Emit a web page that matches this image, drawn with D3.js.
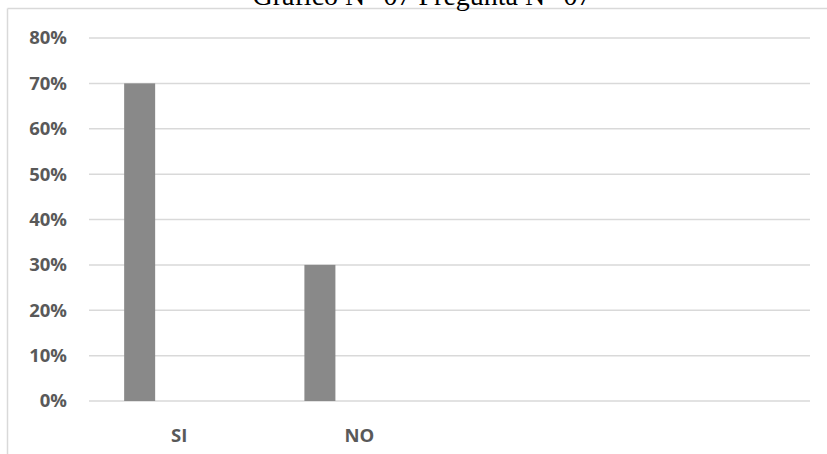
<!DOCTYPE html>
<html>
<head>
<meta charset="utf-8">
<script src="https://cdn.jsdelivr.net/npm/d3@7"></script>
<style>
  html, body { margin: 0; padding: 0; background: #fff; }
  svg { display: block; }
</style>
</head>
<body>
<script>
// Chart data
const title = "Gráfico N° 07 Pregunta N° 07";
const categories = ["SI", "NO", "", " "];
const values = [0.70, 0.30, null, null];
const yTicks = [0, 0.1, 0.2, 0.3, 0.4, 0.5, 0.6, 0.7, 0.8];

const W = 827, H = 454;
const plot = { left: 89, right: 810, top: 38, bottom: 401 };

const svg = d3.select("body").append("svg")
  .attr("width", W).attr("height", H);

// Chart frame (top and left edges visible)
svg.append("line")
  .attr("x1", 7.5).attr("x2", W).attr("y1", 8.5).attr("y2", 8.5)
  .attr("stroke", "#d9d9d9").attr("stroke-width", 1.5);
svg.append("line")
  .attr("x1", 7.5).attr("x2", 7.5).attr("y1", 8.5).attr("y2", H)
  .attr("stroke", "#d9d9d9").attr("stroke-width", 1.5);

// Title
svg.append("text")
  .attr("x", 422).attr("y", 5)
  .attr("text-anchor", "middle")
  .attr("font-family", "'Liberation Serif', 'Times New Roman', serif")
  .attr("font-size", 28)
  .attr("fill", "#000")
  .text(title);

const x = d3.scaleBand().domain(categories)
  .range([plot.left, plot.right]).padding(0);
const y = d3.scaleLinear().domain([0, 0.8])
  .range([plot.bottom, plot.top]);

// Gridlines
svg.append("g")
  .selectAll("line")
  .data(yTicks)
  .join("line")
  .attr("x1", plot.left).attr("x2", plot.right)
  .attr("y1", d => y(d)).attr("y2", d => y(d))
  .attr("stroke", "#d9d9d9").attr("stroke-width", 1.5);

// Y axis labels
const yAxis = d3.axisLeft(y).tickValues(yTicks)
  .tickFormat(d3.format(".0%")).tickSize(0).tickPadding(0);
const gy = svg.append("g")
  .attr("transform", `translate(${67},0)`)
  .call(yAxis);
gy.select(".domain").remove();
gy.selectAll("text")
  .attr("font-family", "'Open Sans', sans-serif")
  .attr("font-weight", "bold")
  .attr("font-size", 18.5)
  .attr("fill", "#595959");

// Bars (first slot of each category group)
const barOffset = x.bandwidth() * 0.195;
const barWidth = x.bandwidth() * 0.172;
svg.append("g")
  .selectAll("rect")
  .data(categories.map((c, i) => ({ c, v: values[i] })).filter(d => d.v != null))
  .join("rect")
  .attr("x", d => x(d.c) + barOffset)
  .attr("width", barWidth)
  .attr("y", d => y(d.v))
  .attr("height", d => y(0) - y(d.v))
  .attr("fill", "#898989");

// X axis labels
const xAxis = d3.axisBottom(x).tickSize(0).tickPadding(0);
const gx = svg.append("g")
  .attr("transform", `translate(0,${plot.bottom})`)
  .call(xAxis);
gx.select(".domain").remove();
gx.selectAll("text")
  .attr("dy", 0)
  .attr("y", 41)
  .attr("font-family", "'Open Sans', sans-serif")
  .attr("font-weight", "bold")
  .attr("font-size", 18.5)
  .attr("fill", "#595959");
</script>
</body>
</html>
